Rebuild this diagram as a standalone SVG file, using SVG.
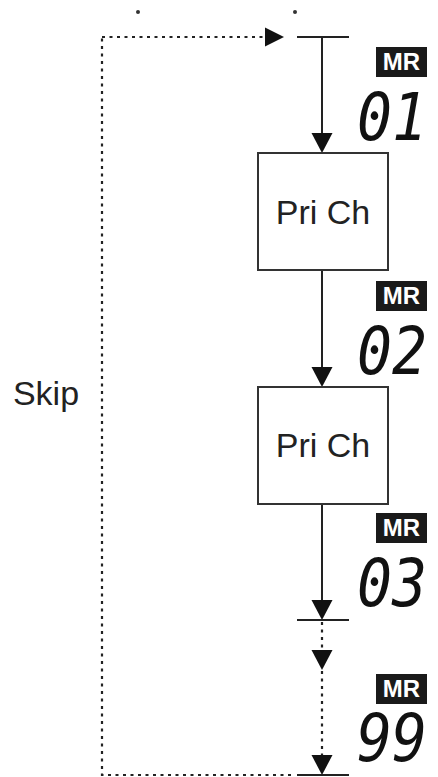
<svg xmlns="http://www.w3.org/2000/svg" width="438" height="777" viewBox="0 0 438 777">
<style>
.ln{stroke:#222;stroke-width:2;fill:none}
.dt{stroke:#222;stroke-width:2.2;fill:none;stroke-dasharray:3 4.5}
.box{fill:#fff;stroke:#333;stroke-width:2}
.lbl{font-family:"Liberation Sans",Arial,sans-serif;font-size:34px;fill:#222;text-anchor:middle}
.badge{fill:#1a1a1a}
.mr{font-family:"Liberation Sans",Arial,sans-serif;font-weight:bold;font-size:24px;fill:#fff;text-anchor:middle}
.seg{font-family:"DejaVu Sans Mono",monospace;font-style:oblique;font-size:66px;fill:#111;text-anchor:end}
.ah{fill:#111}
</style>
<defs>
<path id="ahd" d="M-10.5,-20 L10.5,-20 L0,0 Z"/>
</defs>
<rect width="438" height="777" fill="#fff"/>
<ellipse cx="138" cy="12" rx="2" ry="2" fill="#333"/>
<ellipse cx="295" cy="12" rx="2" ry="2" fill="#333"/>
<g id="connectors">
  <path class="dt" d="M102,37 H266"/>
  <polygon class="ah" points="265,27.5 284,37 265,46.5"/>
  <path class="dt" d="M291,775 H102 V37"/>
  <line class="ln" x1="297" y1="37" x2="349" y2="37"/>
  <line class="ln" x1="322" y1="37" x2="322" y2="135"/>
  <use href="#ahd" class="ah" x="322" y="153"/>
  <line class="ln" x1="322" y1="270" x2="322" y2="369"/>
  <use href="#ahd" class="ah" x="322" y="387"/>
  <line class="ln" x1="322" y1="504" x2="322" y2="602"/>
  <use href="#ahd" class="ah" x="322" y="620"/>
  <line class="ln" x1="297" y1="620" x2="349" y2="620"/>
  <path class="dt" d="M322,622 V651"/>
  <use href="#ahd" class="ah" x="322" y="670"/>
  <path class="dt" d="M322,671 V757"/>
  <use href="#ahd" class="ah" x="322" y="775"/>
  <line class="ln" x1="297" y1="775" x2="349" y2="775"/>
</g>
<g id="skip">
  <text x="46" y="405" font-family="'Liberation Sans',Arial,sans-serif" font-size="34" fill="#222" text-anchor="middle">Skip</text>
</g>
<g id="box1">
  <rect class="box" x="258" y="153" width="130" height="117"/>
  <text class="lbl" x="323" y="224">Pri Ch</text>
</g>
<g id="box2">
  <rect class="box" x="258" y="387" width="130" height="117"/>
  <text class="lbl" x="323" y="457">Pri Ch</text>
</g>
<g id="mr01">
  <rect class="badge" x="376" y="47" width="51" height="30"/>
  <text class="mr" x="401.5" y="70">MR</text>
  <text class="seg" x="427" y="140" textLength="70" lengthAdjust="spacingAndGlyphs">01</text>
</g>
<g id="mr02">
  <rect class="badge" x="376" y="281" width="51" height="30"/>
  <text class="mr" x="401.5" y="304">MR</text>
  <text class="seg" x="427" y="374" textLength="70" lengthAdjust="spacingAndGlyphs">02</text>
</g>
<g id="mr03">
  <rect class="badge" x="376" y="513" width="51" height="30"/>
  <text class="mr" x="401.5" y="536">MR</text>
  <text class="seg" x="427" y="606" textLength="70" lengthAdjust="spacingAndGlyphs">03</text>
</g>
<g id="mr99">
  <rect class="badge" x="376" y="674" width="51" height="30"/>
  <text class="mr" x="401.5" y="697">MR</text>
  <text class="seg" x="427" y="761" textLength="70" lengthAdjust="spacingAndGlyphs">99</text>
</g>
</svg>
